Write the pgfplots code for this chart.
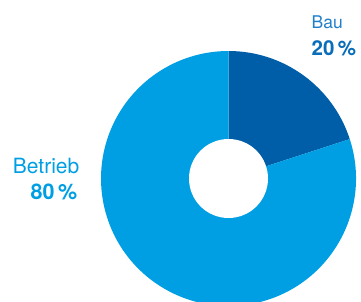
\documentclass[border=0pt]{standalone}
\usepackage{pgfplots}
\usepackage{pgfplotstable}
\pgfplotsset{compat=1.18}
\usepackage{fontspec}
\setmainfont{TeX Gyre Heros}
\definecolor{baublue}{HTML}{005EA8}
\definecolor{betriebblue}{HTML}{009FE3}
\definecolor{bautext}{HTML}{0A6DBA}
\definecolor{bautextlight}{HTML}{1F7FC9}
\pgfplotstableread{
label value
Bau 20
Betrieb 80
}\piedata
\pgfplotstablegetelem{0}{value}\of\piedata \let\vBau\pgfplotsretval
\pgfplotstablegetelem{1}{value}\of\piedata \let\vBetrieb\pgfplotsretval
\pgfmathsetmacro\aStart{90}
\pgfmathsetmacro\aMid{90-3.6*\vBau}
\pgfmathsetmacro\aEnd{\aMid-3.6*\vBetrieb}
\begin{document}
\begin{tikzpicture}
\begin{axis}[name=ax, x=1pt, y=1pt, xmin=0, xmax=361, ymin=0, ymax=301,
  hide axis, clip=true, scale only axis]
\addplot[draw=none] coordinates {(0,0) (361,301)};
\begin{scope}
\clip (axis cs:0,0) rectangle (axis cs:361,301);
\fill[baublue] (axis cs:228.5,122.5) -- ++(\aStart:127.5pt) arc[start angle=\aStart, end angle=\aMid, radius=127.5pt] -- cycle;
\fill[betriebblue] (axis cs:228.5,122.5) -- ++(\aMid:127.5pt) arc[start angle=\aMid, end angle=\aEnd, radius=127.5pt] -- cycle;
\fill[white] (axis cs:228.5,122.5) circle[radius=39.5pt];
\end{scope}
\node[anchor=base east, inner sep=0pt, text=betriebblue, font=\fontsize{21}{25}\selectfont] at (axis cs:79.5,128) {Betrieb};
\node[anchor=base east, inner sep=0pt, text=betriebblue, font=\fontsize{21.5}{25}\selectfont\bfseries] at (axis cs:77.5,102) {80\,\%};
\node[anchor=base west, inner sep=0pt, text=bautextlight, font=\fontsize{17.5}{21}\selectfont] at (axis cs:311.5,272.5) {Bau};
\node[anchor=base west, inner sep=0pt, text=bautext, font=\fontsize{20.5}{24}\selectfont\bfseries] at (axis cs:311.5,246) {20\,\%};
\end{axis}
\pgfresetboundingbox
\path (ax.south west) rectangle (ax.north east);
\end{tikzpicture}
\end{document}
